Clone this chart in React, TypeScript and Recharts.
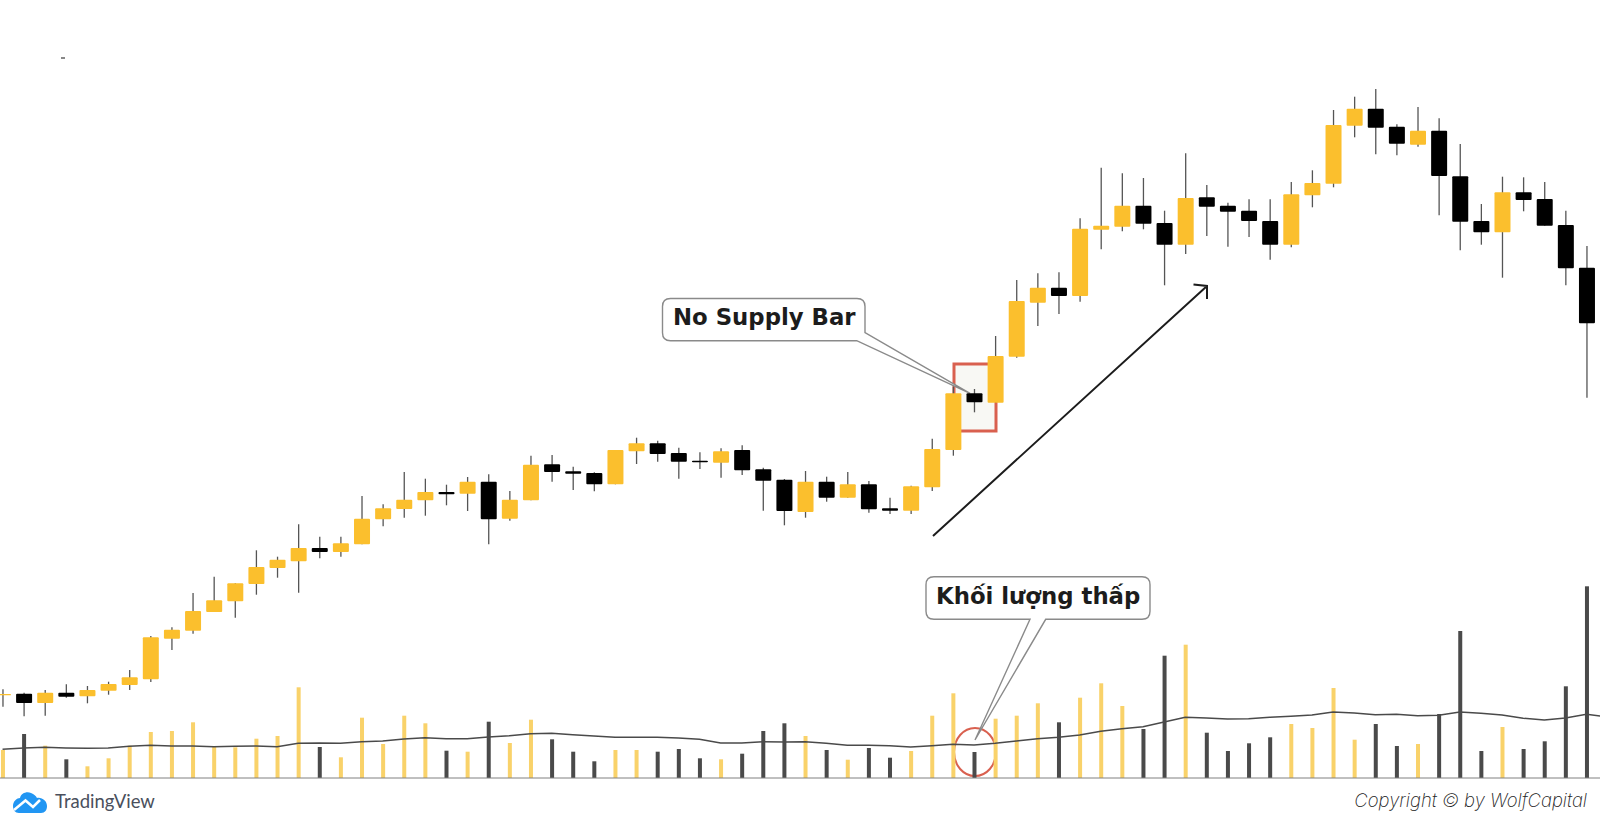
import React from "react";
import { ComposedChart, XAxis, YAxis, Bar, Line, ReferenceLine } from "recharts";

// no axis on the picture, so prices and volumes are in plain chart units
const opens = [120.7, 122.3, 113, 123.3, 119.7, 125.3, 131, 136.7, 177.3, 185.3, 204, 214.7, 232, 248, 254.7, 268, 264, 271.7, 296.7, 307, 315.7, 324, 322.3, 334.3, 297.3, 315.7, 351.7, 344.7, 343, 331.7, 364.7, 372.7, 363, 355.3, 353.3, 366, 346.7, 336.3, 304, 334.3, 318.3, 331.7, 307.7, 305.3, 328.7, 366, 422.7, 413.3, 459.3, 513.3, 528.3, 520, 586.3, 589.3, 610.3, 593, 571.3, 618.7, 610.3, 605.3, 595, 571.3, 620.7, 632.3, 690.3, 707.3, 689.3, 671.3, 685.3, 639.7, 595, 583.7, 623.7, 617, 591, 548.3];
const closes = [122, 113, 123.3, 119.3, 126, 132, 138.7, 178.7, 186.3, 205, 215.7, 232.7, 249, 256.3, 268, 264, 272.7, 297.3, 307.7, 316.3, 324, 321.7, 334.3, 296.7, 316.3, 351.3, 344, 342.3, 331.7, 366, 372.7, 362, 354.3, 353.7, 364.7, 345.7, 335.3, 305, 334.3, 318.3, 331.7, 306.7, 305.3, 329.7, 367, 422.7, 413.7, 460, 515, 528.3, 520, 587.3, 590.3, 610.3, 592.3, 571.3, 618, 609.3, 604.3, 595, 571.3, 621.7, 633, 691, 707.3, 688.3, 672.3, 685.3, 640, 594.3, 583.7, 623.7, 616, 590.3, 547.7, 492.7];
const highs = [126.7, 123.3, 126, 131.7, 130, 134.3, 146, 180, 188.7, 223, 239.3, 232.7, 265.7, 259.3, 291.7, 279.3, 279.3, 320, 311.7, 344, 337.3, 331.3, 339, 341.7, 325, 360.3, 361, 349.3, 343.7, 366, 378.3, 375.3, 368.3, 363.7, 367.7, 370.7, 348.3, 337, 345, 339.3, 344, 335, 318.3, 330.3, 377.3, 429.3, 427, 480, 536, 542.7, 543.7, 597.7, 648.3, 642.7, 638, 605.3, 662.7, 631, 613.3, 616.7, 616.7, 634, 645.7, 706, 719.3, 727, 691.7, 709, 697.7, 672, 612, 639.3, 638.7, 634, 605.3, 570];
const lows = [109.3, 99.7, 100.3, 118.3, 112.7, 121.3, 126, 134, 166, 182.3, 204, 198.3, 221.3, 238.3, 223.3, 257.7, 259.3, 271.7, 289.7, 298.3, 300.3, 310.7, 305, 271.7, 295.3, 315.7, 334.3, 326, 324.7, 331.7, 352, 354.3, 337.3, 347, 338.3, 341, 305.3, 290.7, 298.3, 314.3, 318.3, 303.3, 302, 302, 325, 360.3, 403.7, 413.3, 458.3, 490, 502, 514.3, 566.7, 584.7, 586.7, 530.7, 562, 580, 569.3, 579, 556.3, 568.7, 608.7, 628.7, 678.7, 661.7, 660.7, 669.3, 600.7, 565.7, 571.3, 538.3, 604.7, 590.3, 530.7, 418.3];
const volumes = [28, 44, 32.3, 18.7, 11.7, 19.7, 32.3, 46, 47, 55.7, 31, 30.7, 39.3, 42, 90.7, 31, 20.7, 60.3, 34, 62.3, 54.7, 27.3, 26.3, 56.3, 35, 58.3, 38.7, 26.3, 16.7, 28, 28, 26.3, 29, 19.7, 18.7, 24.3, 47, 54.7, 42, 28, 18.3, 30, 20.3, 27, 62.3, 84.7, 26, 59.3, 62.3, 74.7, 55.7, 80.3, 94.7, 72, 49, 122.3, 133.3, 45.3, 27, 34.7, 40.7, 54, 50, 90, 38.3, 54, 32, 34, 64, 147, 27, 51, 29, 36.7, 91.7, 191.7];
// one more point than candles: the average runs on past the right edge
const volumeMa = [28.7, 30, 30.7, 30, 29.7, 30, 31.7, 32.7, 32, 32, 31.3, 31.7, 32, 31.3, 34.7, 35, 34.7, 36.3, 37, 39, 40.3, 39.3, 39.3, 41, 42.3, 44.3, 44.7, 43.3, 42, 40.7, 40.7, 40.7, 40, 38.7, 35, 35, 36.3, 36, 36.3, 34.7, 32.7, 32.7, 32.3, 31, 32.3, 33.7, 33, 34.7, 37, 39.3, 40.7, 43, 46.7, 49.3, 51.3, 56, 60.7, 60, 59, 59.3, 60.7, 61.7, 63, 66, 65, 63.3, 63.7, 62.3, 62.7, 66, 64.7, 63, 59.7, 58, 60, 63.7, 61];

const rows = volumeMa.map((ma, i) => ({
  i,
  ma,
  open: opens[i],
  close: closes[i],
  high: highs[i],
  low: lows[i],
  volume: volumes[i],
}));

const GOLD = "#fbbf2d";
const RED = "#d9604f";
const xDomain = [-0.12, 75.638];

function Candle(props: any) {
  const { x, y, width, height, payload } = props;
  if (payload.high === undefined) return null;
  const up = payload.close >= payload.open;
  const unit = Math.abs(height) / (payload.high - payload.low);
  const top = Math.min(y, y + height);
  const bodyTop = top + (payload.high - Math.max(payload.open, payload.close)) * unit;
  const bodyH = Math.abs(payload.close - payload.open) * unit;
  const mid = x + width / 2;
  return (
    <g>
      <line x1={mid} x2={mid} y1={top} y2={top + Math.abs(height)} stroke="#555" strokeWidth={1.3} />
      <rect x={x} y={bodyTop} width={width} height={bodyH} fill={up ? GOLD : "#000"} rx={1} />
    </g>
  );
}

function VolumeBar(props: any) {
  const { x, y, width, height, payload } = props;
  if (payload.volume === undefined) return null;
  const up = payload.close >= payload.open;
  return <rect x={x} y={y} width={width} height={height} fill={up ? "#f9d26a" : "#4a4a4a"} />;
}

function Callout({ d, label, x, y }: { d: string; label: string; x: number; y: number }) {
  return (
    <g>
      <path d={d} fill="#fff" stroke="#8a8a8a" strokeWidth={1.4} />
      <text x={x} y={y} fontFamily="DejaVu Sans" fontWeight="bold" fontSize={22.8} fill="#1c1c1c">
        {label}
      </text>
    </g>
  );
}

export default function App() {
  return (
    <div style={{ position: "absolute", left: 0, top: 0 }}>
      <ComposedChart width={1600} height={816} data={rows} margin={{ top: 0, right: 0, bottom: 0, left: 0 }}>
        <XAxis xAxisId="candle" dataKey="i" type="number" domain={xDomain} allowDataOverflow hide />
        <XAxis xAxisId="vol" dataKey="i" type="number" domain={xDomain} allowDataOverflow hide />
        <YAxis yAxisId="price" domain={[0, 816]} hide />
        <YAxis yAxisId="vol" domain={[-38, 778]} hide />

        <rect x={954} y={364} width={42} height={67} fill="#f8f8f4" stroke={RED} strokeWidth={3} />
        <rect x={61} y={57} width={4} height={2} fill="#888" />

        <Bar
          xAxisId="candle"
          yAxisId="price"
          dataKey={(d: any) => (d.high === undefined ? null : [d.low, d.high])}
          barSize={16}
          shape={Candle}
          isAnimationActive={false}
        />
        <Bar
          xAxisId="vol"
          yAxisId="vol"
          dataKey="volume"
          barSize={4}
          shape={VolumeBar}
          isAnimationActive={false}
        />
        <Line
          xAxisId="vol"
          yAxisId="vol"
          dataKey="ma"
          type="linear"
          stroke="#4a4a4a"
          strokeWidth={1.5}
          dot={false}
          activeDot={false}
          isAnimationActive={false}
        />
        <ReferenceLine xAxisId="vol" yAxisId="vol" y={0} stroke="#808080" strokeWidth={1} />

        <ellipse cx={975} cy={752} rx={21} ry={24} fill="none" stroke={RED} strokeWidth={2} />
        <path d="M933 536 L1207 286 M1193.5 284.5 L1207 286 L1207 299" fill="none" stroke="#1c1c1c" strokeWidth={2} />

        <Callout
          d="M670.5 298.5 H857 Q865 298.5 865 306.5 V332.7 L970 393.3 L856.7 340.7 H670.5 Q662.5 340.7 662.5 332.7 V306.5 Q662.5 298.5 670.5 298.5 Z"
          label="No Supply Bar"
          x={673}
          y={325}
        />
        <Callout
          d="M934 576.7 H1142 Q1150 576.7 1150 584.7 V611.3 Q1150 619.3 1142 619.3 H1045.7 L975 740 L1030 619.3 H934 Q926 619.3 926 611.3 V584.7 Q926 576.7 934 576.7 Z"
          label="Khối lượng thấp"
          x={936}
          y={604}
        />

        <path
          d="M13 806 C13 801 17 798 20 798 C21 793 27 791 31 793 C34 794 36 796 37 798 C42 797 47 801 47 806 C47 810 45 813 41 813 H19 C15 813 13 810 13 806 Z"
          fill="#2196f3"
        />
        <path d="M14 810 L25.5 800.5 L33 807 L40 800" fill="none" stroke="#fff" strokeWidth={2.5} />
        <text x={55} y={808} fontFamily="Lato" fontSize={18.5} fill="#4a4f5c">
          TradingView
        </text>
        <text
          x={1587}
          y={807}
          textAnchor="end"
          fontFamily="Inter"
          fontStyle="italic"
          fontWeight={200}
          fontSize={18.5}
          fill="#222"
        >
          Copyright © by WolfCapital
        </text>
      </ComposedChart>
    </div>
  );
}
